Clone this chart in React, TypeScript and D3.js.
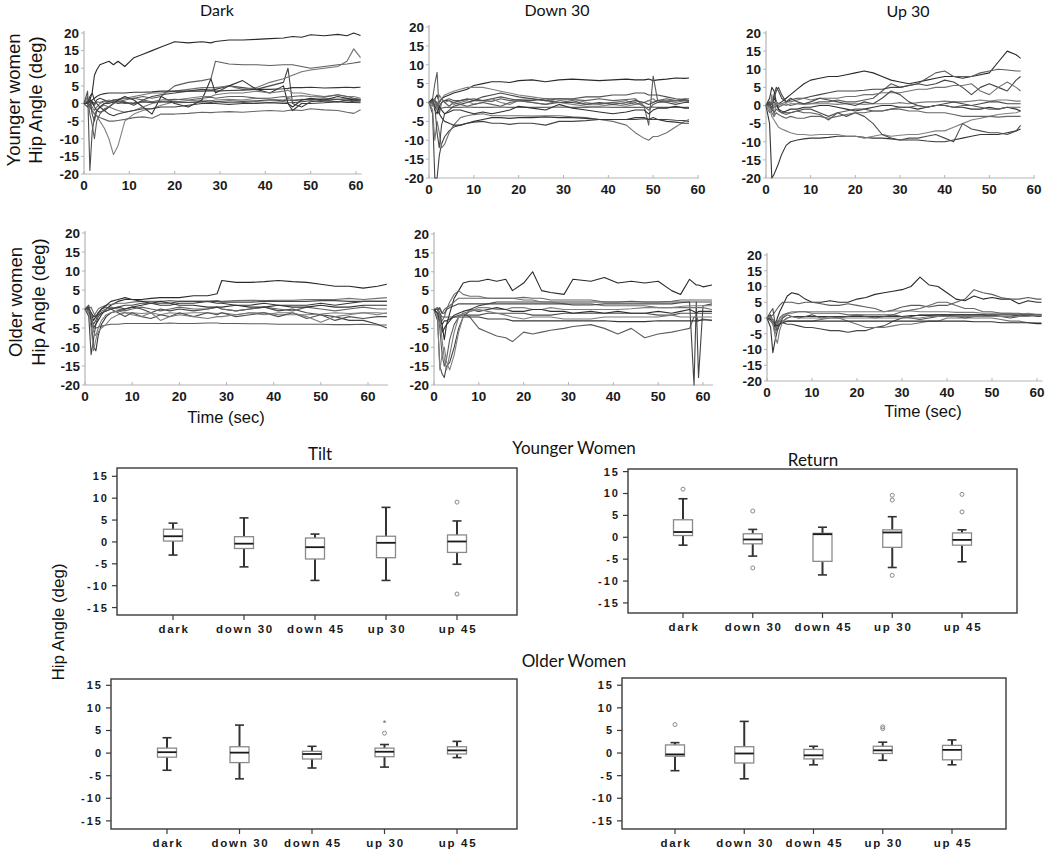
import * as d3 from "d3";

// ---- shared ticks / categories ----
const LINE_Y_TICKS = [20, 15, 10, 5, 0, -5, -10, -15, -20];
const LINE_X_TICKS = [0, 10, 20, 30, 40, 50, 60];
const BOX_Y_TICKS = [15, 10, 5, 0, -5, -10, -15];
const CATEGORIES = ["dark", "down 30", "down 45", "up 30", "up 45"];

// ---- Younger women, Dark (time grid + traces, deg) ----
const T_YD = [0, 0.8, 1.3, 1.8, 2.3, 2.8, 3.5, 4.5, 5.5, 6.5, 7.5, 9, 11, 13, 15, 17, 20, 23, 26, 28, 29, 32, 35, 38, 41, 44, 45, 46, 48, 50, 53, 56, 58, 59.5, 61];
const YD_TRACES = [
  [0, 0.5, 1, 3, 8, 9.5, 11, 11.5, 12, 11, 12, 10.5, 13, 14, 15, 16, 17.5, 17.2, 17.5, 17.2, 17.6, 18, 18, 18.2, 18.4, 18.6, 18.8, 19, 18.8, 19.5, 19.2, 19.6, 19.2, 20, 19.3],
  [0, 0, 0.5, 0, -0.5, 0.5, 0.3, 0.8, 0.5, 1, 1.2, 1.5, 1.5, 2, 1.5, 2, 5, 6, 6.5, 7, 12, 11.2, 11, 11, 10.8, 11, 11, 11, 10.5, 10, 10.5, 11, 11.2, 11.5, 11.8],
  [0, 0.2, -0.5, 0.5, 0, 1, 1.5, 1, 0.5, 1, 0.8, 0.5, -0.5, 1, 2, 2.5, 3, 3.5, 4, 3.8, 4, 5, 4.5, 4, 5, 6, 10, 0, -1, 0.5, 1, 0.5, 1, 0.8, 1],
  [0, 0, 0.5, -1, -2, -1, 0, 0.5, 1, 0.5, 1, 1.5, 2, 2.5, 3, 3, 3.5, 4, 4.5, 4.5, 4.5, 5, 4, 4.5, 6, 7, 7.5, 8, 9, 9.5, 10, 10.5, 12, 15.5, 13],
  [0, 0, 0.5, 1, 1.5, 2, 2.5, 2.8, 3, 3, 3, 3, 3.2, 3.2, 3.3, 3.5, 3.5, 3.5, 3.5, 3.6, 3.5, 3.7, 3.8, 4, 4, 4.2, 4.3, 4.5, 4.5, 4.6, 4.4, 4.5, 4.6, 4.5, 4.6],
  [0, 0, -1, -2, -3, -3.5, -5, -7, -10, -14.5, -12, -5, -3, -2, -1.5, -0.5, 0.5, 0.8, 1, 0.8, 1, 1.2, 1, 1.5, 1.2, 1, 1.5, 1, 1.2, 1, 1.5, 1.2, 1.5, 1.2, 1],
  [0, 3.5, -19, -8, -4, -2, -1, 0, 0.5, 0.2, 0.5, 0, 0.2, 0.5, 0.3, 0.5, 0.5, 0.3, 0.5, 0.8, 0.5, 0.8, 0.6, 0.8, 1, 0.8, 1, 0.8, 1, 1.2, 1, 1.2, 1, 1.3, 1],
  [0, 0, -1, -2, -3, -3.5, -4, -4.5, -5, -5, -4.8, -4.5, -4, -3.8, -4.2, -3, -3, -2.8, -2.5, -2.6, -2.5, -2.3, -2.5, -2.2, -2, -2.2, -2, -1.8, -2, -1.5, -1.8, -2, -2.5, -2.8, -1.8],
  [0, 0.5, 1, 0.5, -1, -2, -2.5, -2, -1, 0, 1, 2, 1, -1, -3, 2, 0, -1, 1, 7, 3, 5, 6.5, 4, 3, 5, 0, -1, 1, 1.5, 1, 2, 1.5, 1, 1],
  [0, 1, 0.5, -2, -3, -2, -1, -0.5, -1, -1.5, -2, -2.5, -2, -1, 0, 0.5, 1, 1.5, 2, 2, 2.5, 3, 3, 3.5, 3, 3.5, 3.8, 3, 3, 2.5, 2, 2.5, 2, 2, 1.5],
  [0, -1, 1, -3, -5, -2, -1, 0, 0, 0.5, 0, 0.3, 0, 0.5, 0.3, 0.5, 0.2, 0.3, 0.5, 0.3, 0.5, 0.2, 0.3, 0.5, 0.3, 0.5, 0.3, 0.2, 0.5, 0.8, 0.5, 0.5, 0.8, 0.5, 0.5],
  [0, 2, -3, -6, -10, -5, -3, -1.5, -1, 0, 0.5, 1, 1.5, 1, 0.5, 1, 1.2, 1, 1.5, 1.8, 1.5, 2, 2, 1.5, 1.5, 2, 1.8, 2, 2.2, 2, 1.8, 2.5, 2, 1.5, 1.2],
  [0, 0, 2, 3, 1, 0, -1, -2, -3, -3.5, -3, -2.5, -2, -1.5, -1.5, -1, -1, -0.5, 0, 0, 0, -0.3, 0, 0, 0.2, 0, 0, -2, 0, 0, 0.2, 0.5, 0.3, 0.3, 0.2],
];

// ---- Younger women, Down 30 ----
const T_YDN = [0, 0.8, 1.3, 1.8, 2.3, 2.8, 3.5, 4.5, 5.5, 7, 8.5, 10, 12, 14, 16, 18, 20, 23, 26, 29, 32, 35, 38, 41, 44, 46, 48, 49, 50, 51, 53, 55, 57, 58];
const YDN_TRACES = [
  [0, 0.5, 1, 2, 0, 1, 1.5, 2, 2.5, 3, 3.5, 4.5, 5, 5.5, 5.5, 5.3, 5.8, 6, 5.5, 6, 6.2, 6, 5.8, 6, 6.2, 6, 6, 6.2, 5.8, 6, 6.2, 6.5, 6.4, 6.5],
  [0, 1, 5, 8, -3, 0, 0.5, 1, 0.5, 0.5, 0.8, 1, 0.5, 0.3, 1, 0.5, 0.8, 1, 0.5, 1, 0.8, 0.5, 1, 0.5, 0.8, 1, -1, -6, 7, 0.5, 1, 0.5, 1, 1],
  [0, -3, -20, -20, -14, -11, -9, -7.5, -6.5, -6, -5.5, -5.2, -5, -5.5, -5.5, -5.8, -5.5, -5.5, -6, -5, -5, -4.8, -4.5, -4.5, -4.5, -4.5, -4.3, -4.5, -4.5, -4.5, -4.5, -4.7, -4.8, -5],
  [0, -2, -10, -5, -8, -12, -11, -8, -6, -4, -3.5, -3.2, -3, -3.5, -3.5, -3.5, -3.5, -3.6, -3.5, -3.5, -3.8, -4, -4.5, -5, -6, -8, -9.5, -10, -9, -9, -8, -6.5, -5, -4.5],
  [0, 0, -1, -2, -3, -4, -5, -5.5, -6, -6, -5.5, -5, -4.5, -4, -4, -4.2, -4, -4, -3.8, -4, -4, -4.2, -4.5, -4.5, -4.5, -4, -4, -4.5, -4, -4.5, -5, -5.2, -5.5, -5.5],
  [0, 0.5, 1, -1, 0, 1, 2, 2.5, 3, 3.5, 4, 4, 4, 3.5, 3, 2.5, 2, 1.5, 1, 0, -0.5, -1, -1, -0.5, -1, -0.5, 0, 0.5, 0, 0.5, 0.5, 0.5, 0.8, 0.5],
  [0, -0.5, 0.5, 0, -1, 0, 0.5, 0.5, 0, 0.5, 1, 0.5, 0.5, 1, 1.5, 1, 0.5, 0.5, 1, 1, 1, 1.5, 1.5, 2, 2, 2.5, 2.5, 2, 2, 2, 1.5, 1, 0.8, 0.5],
  [0, 0, -0.5, -1, -1.5, -1.5, -1.3, -1.3, -1.3, -1.3, -1.2, -1.3, -1.3, -1.3, -1.2, -1.3, -1.3, -1.3, -1.3, -1.2, -1.3, -1.3, -1.2, -1.3, -1.3, -1.3, -1.3, -1.3, -1.2, -1.3, -1.3, -1.3, -1.3, -1.3],
  [0, 1, -2, -3, -1, -2, -3, -2.5, -2, -2, -2.5, -3, -2.5, -3, -2.5, -2, -1, -1.5, -2, -0.5, -1.5, -2, -2.5, -3, -2.5, -2, -2, -3, -2, -1.5, -1.5, -1, -1.5, -1.5],
  [0, -1, 1, -2, 2, 1, 0, 0.5, -0.5, 0, 0.5, -0.5, 0, 1, 0, -0.5, 0.5, 0, -0.5, 0.5, 1, 0, -0.5, 0, 0.5, -0.5, 0, 0.5, 1, 0, 0.5, 0, 0.5, 0],
  [0, 0.5, -1, -8, -12, -6, -3, -2, -1, -0.5, 0, 0.5, 1.5, 2, 2.5, 2, 1.5, 1, 0.5, 0, 0, -0.5, 0, -0.5, 0, 0.5, 0, -0.5, 0, 0.5, 0, -0.5, 0, 0],
  [0, 0, 0.5, -1, 0, 1, 0, -1, 0, -0.5, -1, -0.5, 0, -0.5, -1, 0, 0.5, 0, -0.5, 0, 0.5, -0.5, -0.3, 0, -0.5, 0, -1, -2, -0.5, 0, 0.2, 0.5, 0.5, 0.3],
];

// ---- Younger women, Up 30 ----
const T_YUP = [0, 0.8, 1.3, 1.8, 2.3, 2.8, 3.5, 4.5, 5.5, 7, 8.5, 10, 12, 14, 16, 18, 20, 22, 24, 26, 28, 30, 32, 34, 36, 38, 40, 42, 44, 46, 48, 50, 52, 54, 56, 57];
const YUP_TRACES = [
  [0, 0.5, 1, 2, 1, 0.5, 1, 2, 3, 4.5, 6, 7, 7.5, 8, 8, 8.5, 9, 9.5, 9, 8, 7, 6.5, 6, 6.5, 7, 7.5, 8, 8, 7.5, 8, 8.5, 9, 12, 15, 14, 13],
  [0, -0.5, 0.5, 1, 0, -0.5, 0, 0.5, 0, 0.5, 0.5, 0.5, 1, 1, 1.5, 1, 1, 1.5, 2, 4, 6, 5, 5.5, 6, 7.5, 9, 9.5, 8, 8, 8, 9, 9.5, 10, 9.8, 9.5, 9.5],
  [0, 0, 0.5, 3, 5, 4, 2, 1, 1.5, 2, 2, 2.5, 3, 3.5, 4, 4, 4, 4.2, 4.5, 4.5, 5, 5, 5.5, 6, 5.5, 6, 7, 6.5, 5, 3, 5, 6, 5, 4, 7, 8],
  [0, 0, -0.5, 0, 1, 0.5, 0.5, 1, 1, 1.5, 2, 1.5, 2, 2, 2, 2.5, 2.5, 3, 3, 3.5, 3.5, 3.5, 4, 4.5, 4.5, 5, 5, 5.5, 5.5, 6, 4, 3, 5, 6.5, 5, 4],
  [0, -5, -20, -19, -17.5, -16, -13.5, -11, -10, -9.5, -9.2, -9, -9, -8.8, -8.5, -8.5, -8.5, -8.8, -9, -9, -9.2, -9.5, -9.5, -9.5, -9.8, -10, -10, -9.5, -9, -8.5, -8, -8, -8, -7.5, -7, -6.5],
  [0, -1, -3, -4, -5, -6, -6.5, -7, -7.5, -8, -8, -8.2, -8, -8, -8, -8.5, -8.5, -9, -8.5, -8, -8.5, -8.2, -8, -8, -7.5, -7, -7, -6, -5, -4, -3.5, -3, -2.5, -2.2, -2, -1.5],
  [0, 0.5, -1, -0.5, 0, -1, -1.5, -2, -2, -1.5, -1, -1, -2, -3, -2, -3, -2, -3, -5, -8, -9, -9.5, -9, -9, -8.5, -8, -9, -10, -5, -6.5, -7, -7.5, -7.5, -8, -7, -5.5],
  [0, 1, -2, -3, -2, -2.5, -3, -3.5, -3, -3.5, -3.5, -3, -3, -3.5, -3, -2.5, -2, -2, -1.5, -1.5, -1, -1, -1.5, -1.5, -2, -2, -2, -2.5, -3, -3, -3, -3, -3.2, -3, -3, -3],
  [0, 2, 5, 4, 1, -1, -2, -1.5, -1, -1, -0.5, -0.5, 0, 0, -0.5, -1, -1.5, -1, -0.5, 0, 0, -0.5, -0.5, -1, -0.5, 0, 0, -0.5, -0.5, -1, -1, -0.5, -1, -0.5, -1, -1.5],
  [0, -2, 3, -3, 1, 0, 0.5, 0, 0.5, 0.5, 0.3, 0.5, 0.5, 0.5, 0.3, 0.5, 0.5, 0.3, 0.5, 0.5, 0.5, 0.8, 0.5, 0.8, 1, 1, 1.2, 1, 1, 1.2, 1.5, 1.2, 1.5, 1.5, 1.2, 1.2],
  [0, 1, -1, 2, 4, 5, 3, 1, 2, 1, 0.5, 1, 2, 1.5, 1, 0.5, 0, 1, 0.5, 2, 4, 3, 1, 0, -0.5, 0, 0.5, 1, 0.5, 0, 0.5, 1, 1, 0.5, 0.5, 0.5],
  [0, 0, -1, -2, -1, -1.5, -2, -2.5, -2, -1.5, -2, -2, -2.5, -4, -2, -1.5, -1, -1, -1.5, -1.5, -1, -0.5, -0.5, 0, -0.5, 0, 0, -0.5, 0, 0, -0.5, -1, -1, -0.5, -0.5, -0.5],
];

// ---- Older women, Dark ----
const T_OD = [0, 0.8, 1.3, 1.8, 2.3, 2.8, 3.5, 4.5, 5.5, 7, 8.5, 10, 12, 14, 16, 18, 20, 23, 26, 28, 29, 32, 35, 38, 41, 44, 47, 50, 53, 56, 59, 62, 64];
const OD_TRACES = [
  [0, -0.5, -2, -5, -4, -3, -1.5, 0, 1, 2, 2.5, 2.5, 2.5, 2.8, 3, 3, 3, 3.5, 3.5, 4, 7.5, 7, 7, 7.2, 7.5, 7.2, 7, 6.5, 6, 6, 5.5, 6, 6.5],
  [0, -1, -3, -5, -5, -4.8, -4.5, -4.2, -4, -4, -3.8, -3.8, -3.8, -3.8, -3.8, -3.7, -3.8, -3.8, -3.7, -3.7, -3.8, -3.8, -3.9, -3.9, -4, -4, -4, -4, -4.1, -4.1, -4, -4.2, -4.2],
  [0, -2, -12, -8, -4, -2, -1, -0.5, 0, 0.5, 0, 0.5, 0, -1, 0, -0.5, 0, -0.5, 0, 0.5, 0, -0.5, 0, 0.5, -0.5, 0, -1, -1.5, -2, -3, -3, -4, -5],
  [0, 0, -1, -2, -1, 0, 0.5, 1, 1.2, 1.5, 1.5, 1.8, 2, 2, 2, 2.2, 2, 2, 2, 2.2, 2, 2.2, 2.3, 2.2, 2.3, 2.3, 2.5, 2.5, 2.5, 2.8, 2.5, 2.8, 3],
  [0, 0.5, -3, -10, -11, -7, -4, -2, -1, -0.5, 0, 0.5, 1, 1.5, 1, 1, 1.5, 1.5, 2, 1.5, 1.5, 1, 1, 1.5, 1, 1, 1, 1.5, 1, 1.5, 2, 2, 2],
  [0, -1, -5, -11, -8, -6, -5, -4, -2.5, -1.5, -1, -1, -1.2, -1, -1.5, -1, -1.2, -1, -1, -1.2, -1, -1.5, -1, -1, -1.5, -1.5, -1.5, -1.3, -1, -1.2, -1, -1, -1.2],
  [0, 1, -2, -4, -3, -1, 0, 0.5, 0, -1, -2, -1, -2, -2.5, -1.5, -2, -1, -2, -1, -1.5, -1, -2, -1.5, -1, -2, -1, -2.5, -1.5, -3, -2, -2.5, -2, -2],
  [0, 0, 0.5, -1, -2, -1, -0.5, 0, 0.5, 0, -0.5, 0, 0.5, 0, -0.5, 0, 0.5, 0, 0, 0.5, 0, -0.5, 0, 0.5, 0, -0.5, 0.5, 0, -0.5, 0, 0.5, 0, 0],
  [0, 0, -1, -3, -2, -1, 0, 1, 2, 2.5, 3, 2.5, 2, 1.5, 2, 1.5, 1, 1, 0.5, 0.5, 0.5, 1, 0.5, 0.5, 1, 0.5, 0.5, 1, 0.5, 0.5, 1, 1, 1],
  [0, -0.5, -1, -6, -7, -5, -3, -1.5, -1, -0.5, -1, -1.5, -2, -1, -3, -2, -1.5, -2, -2.5, -2, -2, -1.5, -1, -1.5, -1, -1, -2, -3.5, -2, -1.5, -1, -1.5, -1],
  [0, 0, -1, -2, -2, -1.5, -1, -0.5, 0, 0.5, 1, 1, 1.5, 1.5, 1.5, 1.5, 2, 2, 2, 2, 1.8, 1.8, 1.8, 2, 2, 2, 2, 2.2, 2.2, 2, 2, 2, 2],
];

// ---- Older women, Down 30 ----
const T_ODN = [0, 0.8, 1.3, 1.8, 2.3, 2.8, 3.5, 4.5, 5.5, 6.5, 8, 10, 12, 14, 16, 17.5, 20, 22, 24, 26, 29, 31, 35, 38, 41, 44, 47, 50, 53, 55, 57, 58, 58.5, 59, 60, 62];
const ODN_TRACES = [
  [0, 0, -1, -4, -8, -4, -1, 3, 5, 7, 7.5, 7.5, 8, 7.5, 8, 5, 7, 10, 5, 4.5, 4, 8, 7.5, 8.5, 7, 7.5, 7, 7.5, 5, 4, 8, 7, 6.5, 6.5, 6, 6.5],
  [0, -1, -5, -12, -15, -13, -8, -4, -2, -1, -2, -5, -6, -7, -7.5, -8.5, -6, -6.5, -6, -5.5, -5, -4.5, -4, -5, -6.5, -5, -7.5, -6.5, -6, -5.5, -5, -2, -2, -3, -2.5, -3],
  [0, -3, -15, -17, -18, -15, -14, -10, -5, -2, 0, 1, 1.5, 2, 2, 2, 2, 2, 2, 2, 2, 2, 2, 2, 2, 2.2, 2, 2, 2, 2, 2, -20, 2, -18, 1, 1.5],
  [0, 0.5, -1, -3, -2, 0, 2, 4, 5, 4, 3.5, 3.5, 3, 3, 3, 3, 2.5, 2.5, 2, 2, 1.5, 1.5, 1.5, 1, 1, 1, 1, 0.5, 0.5, 0.5, 0.5, 0.5, 0.5, 0.5, 0.5, 0],
  [0, 0, -2, -4, -3, -3, -2.5, -2, -2, -2, -2, -2, -2.5, -2.5, -2.5, -3, -3, -3, -3, -3, -3, -3, -3, -3, -3.2, -3.2, -3.2, -3, -3, -3, -3, -3, -3, -3, -2.8, -2.8],
  [0, -2, -16, -12, -10, -14, -16, -12, -6, -2, -0.5, 0.5, 0.5, 0, 0, 0.5, 0.5, 0, 0, 0.5, 0, 0, 0, 0, 0, 0.2, 0.5, 0.5, 0.5, 0.8, 1, 1, 1, 1, 1, 1],
  [0, 0, -1, -2, -2, -2, -2, -2, -1.5, -1.5, -1.5, -1.5, -1, -1, -1, -1, -1, -1.5, -1.5, -1.5, -1, -1, -1, -1, -1, -1, -1, -1.5, -1.5, -1, -1, -1, -1, -1, -1, -1],
  [0, 0.5, 0, -1, 0, 0.5, 1, 2, 3, 3, 3, 3, 3, 3, 3, 3, 3.2, 3, 3, 2.5, 2.5, 2.5, 2.5, 2, 2, 2, 2, 2, 2.2, 2.5, 2.5, 2.5, 2.5, 2.5, 2.5, 2.5],
  [0, -1, -3, -6, -5, -4, -3, -1.5, -1, -0.5, 0, -0.5, 0, 0.5, 0, -0.5, -0.5, 0, 0, -0.5, -0.5, -1, -0.5, -1, -0.5, -1, -1, -0.5, -1, -0.5, 0, -0.5, -1, -0.5, -0.5, -0.5],
  [0, 0.5, -2, -8, -13, -16, -12, -6, -2, -1, -0.5, 0, -0.5, -1, -1.5, -2, -2.5, -2, -2, -2, -2.5, -2.5, -2.5, -2, -2, -2, -2, -2, -1.5, -2, -2, -2, -2, -2, -2, -2],
  [0, 0, 0.5, -1, -1, 0, 0.5, 1, 1.5, 1.5, 1.5, 1.5, 1.5, 1.5, 1.5, 1.5, 1.5, 1.5, 1.5, 1.5, 1.5, 1.2, 1.2, 1.5, 1.5, 1.5, 1.5, 1.5, 1.5, 1.8, 2, 2, 2, 2, 2, 2],
];

// ---- Older women, Up 30 ----
const T_OUP = [0, 0.8, 1.3, 1.8, 2.3, 2.8, 3.5, 4.5, 5.5, 7, 8.5, 10, 12, 14, 16, 18, 20, 22, 24, 26, 28, 30, 32, 34, 36, 38, 40, 42, 44, 46, 48, 50, 52, 54, 56, 58, 60, 61];
const OUP_TRACES = [
  [0, 1, -1, -3, 0, 2, 4, 7, 8, 7.5, 6, 5, 5, 5.5, 5, 5, 6, 6.5, 7.5, 8, 8.5, 9, 10, 13, 10.5, 10, 8, 6, 5.5, 7, 6, 6.5, 6, 6, 4.5, 5.5, 5, 5],
  [0, 0.5, 1, 2, 3, 4, 5, 5, 5, 4.5, 5, 5, 4.5, 4, 4, 4.5, 4, 3.5, 3, 2, 2.5, 3.5, 4, 4, 3.5, 4, 4, 5, 6, 9, 8, 7.5, 6.5, 6, 6, 6.5, 6, 6],
  [0, 0, -1, -1.5, -1, -1, -1.5, -2, -2, -2.5, -3, -3, -3.5, -4, -4, -4.5, -4, -4, -3, -2.5, -1, 0, 0.5, 1, 1, 1, 1, 1, 1, 1, 1, 0.5, 0.5, 0.5, 1, 1, 1, 1],
  [0, 0, -0.5, -1, -1.5, -1, -1, -1, -1, -1, -1, -1, -0.5, 0, 0, -1, -2, -3, -3, -3, -2.5, -2, -2, -1.5, -1, -1, 0, 0, 0, 0, 0, 0, -0.5, -1, -1, -1.5, -1.5, -1.5],
  [0, -3, -11, -7, -4, -2, -1, 0, 0.5, 0.5, 0.5, 0.5, 0.5, 0.5, 0.5, 0.5, 0.5, 0.5, 0.5, 0.5, 0.5, 0.5, 0.8, 0.8, 0.8, 1, 1, 1, 1, 1, 1, 1, 1, 1, 1, 1, 1, 1],
  [0, 0.5, -2, -5, -3, -1, 0.5, 1.5, 2, 2, 2, 2, 2, 2, 2, 2, 2, 2, 2, 2, 2.2, 2.2, 2.2, 2, 2, 2, 2, 1.8, 1.8, 1.8, 1.5, 1.5, 1.5, 1.5, 1.2, 1.5, 1.2, 1.2],
  [0, 2, 3, -2, -4, -2, 0, 1, 0.5, 0, 0.5, 1, 0, 0.5, 0, 0.5, 1, 0.5, 0, 0.5, 1, 0.5, 0, -0.5, 0, 0.5, 1, 0.5, 0, 0.5, 0.5, 1, 0.5, 0, 0.5, 1, 0.5, 0.5],
  [0, -1, -2, -4, -2, 0, 1, 1.5, 1.5, 2, 2, 1.5, 1.5, 1.5, 1.5, 1, 1, 1, 1, 1, 1, 2, 2.5, 3, 4, 5, 5, 4, 3, 3, 2, 2, 1.5, 1.5, 1.5, 1, 1, 1],
  [0, -0.5, -1, -2, -2.5, -2, -1.5, -1, -1, -1, -1, -1, -1, -1, -1, -1, -1, -1, -1, -1, -1, -1, -1, -1, -1, -1, -1, -1, -1, -1.2, -1.2, -1.2, -1.5, -1.5, -1.5, -1.5, -1.8, -1.8],
  [0, 0.5, -1, -6, -8, -4, -1, 0, 0.5, 0, 0, 0, 0, 0, 0, 0, 0, 0, 0, 0, 0, 0, 0, 0, 0.5, 0.5, 0.5, 0.5, 0.5, 0.5, 0.5, 0.5, 0.5, 0.5, 0.5, 0.5, 0.8, 0.8],
];

// ---- Box plot statistics (deg): whisker low, Q1, median, Q3, whisker high, outliers ----
const YT_LO = [-3.0, -5.7, -8.8, -8.8, -5.1];
const YT_Q1 = [0.2, -1.5, -3.9, -3.6, -2.4];
const YT_MED = [1.3, -0.4, -1.2, -0.2, 0.1];
const YT_Q3 = [2.9, 1.2, 0.9, 1.3, 1.6];
const YT_HI = [4.3, 5.5, 1.8, 7.9, 4.8];
const YT_OUT = [[], [], [], [], [9.1, -11.9]];

const YR_LO = [-1.8, -4.3, -8.6, -6.9, -5.6];
const YR_Q1 = [0.4, -1.5, -5.5, -2.3, -1.8];
const YR_MED = [1.2, -0.5, 0.7, 1.1, -0.6];
const YR_Q3 = [4.0, 0.8, 0.9, 1.7, 1.0];
const YR_HI = [8.8, 1.8, 2.3, 4.7, 1.7];
const YR_OUT = [[11], [6, -7], [], [9.6, 8.5, -8.7], [9.8, 5.8]];

const OT_LO = [-3.8, -5.7, -3.3, -3.1, -1.0];
const OT_Q1 = [-0.9, -2.1, -1.3, -0.8, -0.2];
const OT_MED = [0.2, 0.1, -0.2, 0.3, 0.6];
const OT_Q3 = [1.1, 1.4, 0.4, 1.1, 1.4];
const OT_HI = [3.4, 6.2, 1.5, 1.9, 2.6];
const OT_OUT = [[], [], [], [4.4], []];
const OT_EXT = [[], [], [], [6.9], []];

const OR_LO = [-3.9, -5.7, -2.6, -1.6, -2.6];
const OR_Q1 = [-0.7, -2.2, -1.3, -0.1, -1.5];
const OR_MED = [-0.3, -0.1, -0.5, 0.6, 0.7];
const OR_Q3 = [1.8, 1.4, 0.8, 1.5, 1.7];
const OR_HI = [2.3, 7.0, 1.5, 2.4, 2.9];
const OR_OUT = [[6.3], [], [], [5.8, 5.4], []];

// ---- layout ----
const SANS = "'Liberation Sans', Arial, Helvetica, sans-serif";
const TITLE_FONT = "Lato, 'Open Sans', sans-serif";
const TRACE_GREYS = ["#2a2a2a", "#5c5c5c", "#444444", "#727272", "#363636", "#808080", "#4e4e4e", "#666666", "#303030", "#7a7a7a", "#484848", "#5e5e5e", "#3c3c3c"];

const LINE_PANELS = [
  { key: "yd", title: "Dark", titleX: 217, titleY: 16, times: T_YD, traces: YD_TRACES, xRange: [84, 356], yRange: [174, 33] },
  { key: "ydn", title: "Down 30", titleX: 557, titleY: 16, times: T_YDN, traces: YDN_TRACES, xRange: [429, 698], yRange: [178, 27] },
  { key: "yup", title: "Up 30", titleX: 908, titleY: 17, times: T_YUP, traces: YUP_TRACES, xRange: [766, 1034], yRange: [178, 33] },
  { key: "od", title: "", titleX: 0, titleY: 0, times: T_OD, traces: OD_TRACES, xRange: [85, 368], yRange: [385, 233] },
  { key: "odn", title: "", titleX: 0, titleY: 0, times: T_ODN, traces: ODN_TRACES, xRange: [434, 703], yRange: [385, 234] },
  { key: "oup", title: "", titleX: 0, titleY: 0, times: T_OUP, traces: OUP_TRACES, xRange: [767, 1037], yRange: [381, 255] },
];

const BOX_PANELS = [
  { key: "yt", left: 117, right: 517, top: 468, bottom: 615, yDomain: [-16.7, 16.9], pts: [173, 457], lo: YT_LO, q1: YT_Q1, med: YT_MED, q3: YT_Q3, hi: YT_HI, out: YT_OUT, ext: [] as number[][] },
  { key: "yr", left: 628, right: 1017, top: 469, bottom: 613, yDomain: [-17.3, 15.6], pts: [683, 962], lo: YR_LO, q1: YR_Q1, med: YR_MED, q3: YR_Q3, hi: YR_HI, out: YR_OUT, ext: [] as number[][] },
  { key: "ot", left: 111, right: 517, top: 679, bottom: 829, yDomain: [-16.8, 16.4], pts: [167, 457], lo: OT_LO, q1: OT_Q1, med: OT_MED, q3: OT_Q3, hi: OT_HI, out: OT_OUT, ext: OT_EXT },
  { key: "or", left: 622, right: 1006, top: 678, bottom: 829, yDomain: [-16.8, 16.6], pts: [675, 952], lo: OR_LO, q1: OR_Q1, med: OR_MED, q3: OR_Q3, hi: OR_HI, out: OR_OUT, ext: [] as number[][] },
];

function LinePanel({ p }: { p: (typeof LINE_PANELS)[number] }) {
  const x = d3.scaleLinear().domain([0, 60]).range(p.xRange);
  const y = d3.scaleLinear().domain([-20, 20]).range(p.yRange);
  const tEnd = p.times[p.times.length - 1];
  const line = d3
    .line<number>()
    .x((_, i) => x(p.times[i]))
    .y((v) => y(v));
  const axisColor = "#b4b4b4";
  const x0 = x(0);
  const yb = y(-20);
  return (
    <g>
      {p.title && (
        <text x={p.titleX} y={p.titleY} textAnchor="middle" fontFamily={TITLE_FONT} fontSize={16} fill="#111">
          {p.title}
        </text>
      )}
      <line x1={x0} x2={x0} y1={y(20) - 2} y2={yb} stroke={axisColor} strokeWidth={1.2} />
      <line x1={x0} x2={x(Math.max(60, tEnd)) + 1} y1={yb} y2={yb} stroke={axisColor} strokeWidth={1.2} />
      {LINE_Y_TICKS.map((v) => (
        <g key={v}>
          <line x1={x0 - 3} x2={x0} y1={y(v)} y2={y(v)} stroke={axisColor} />
          <text x={x0 - 5} y={y(v)} dy="0.36em" textAnchor="end" fontFamily={SANS} fontWeight="bold" fontSize={13.5} fill="#1a1a1a">
            {v}
          </text>
        </g>
      ))}
      {LINE_X_TICKS.map((v) => (
        <g key={v}>
          <line x1={x(v)} x2={x(v)} y1={yb} y2={yb - 3} stroke={axisColor} />
          <text x={x(v)} y={yb + 16} textAnchor="middle" fontFamily={SANS} fontWeight="bold" fontSize={13.5} fill="#1a1a1a">
            {v}
          </text>
        </g>
      ))}
      {p.traces.map((tr, i) => (
        <path
          key={i}
          d={line(tr.slice(0, p.times.length)) ?? ""}
          fill="none"
          stroke={TRACE_GREYS[i % TRACE_GREYS.length]}
          strokeWidth={1.1}
          strokeLinejoin="round"
        />
      ))}
    </g>
  );
}

function BoxPanel({ b }: { b: (typeof BOX_PANELS)[number] }) {
  const x = d3.scalePoint<string>().domain(CATEGORIES).range(b.pts);
  const y = d3.scaleLinear().domain(b.yDomain).range([b.bottom, b.top]);
  const boxW = 19;
  const capW = 9;
  return (
    <g>
      <rect x={b.left} y={b.top} width={b.right - b.left} height={b.bottom - b.top} fill="none" stroke="#3a3a3a" strokeWidth={1.4} />
      {BOX_Y_TICKS.map((v) => (
        <g key={v}>
          <line x1={b.left - 5} x2={b.left} y1={y(v)} y2={y(v)} stroke="#3a3a3a" strokeWidth={1.2} />
          <text x={b.left - 8} y={y(v)} dy="0.36em" textAnchor="end" fontFamily={SANS} fontWeight="bold" fontSize={11} letterSpacing={2} fill="#1a1a1a">
            {v}
          </text>
        </g>
      ))}
      {CATEGORIES.map((c, i) => {
        const cx = x(c) ?? 0;
        return (
          <g key={c}>
            <line x1={cx} x2={cx} y1={b.bottom} y2={b.bottom + 5} stroke="#3a3a3a" strokeWidth={1.2} />
            <text x={cx + 1} y={b.bottom + 18} textAnchor="middle" fontFamily={SANS} fontWeight="bold" fontSize={11.5} letterSpacing={1.7} fill="#1a1a1a">
              {c}
            </text>
            {/* whiskers */}
            <line x1={cx} x2={cx} y1={y(b.hi[i])} y2={y(b.q3[i])} stroke="#333" strokeWidth={2} />
            <line x1={cx} x2={cx} y1={y(b.q1[i])} y2={y(b.lo[i])} stroke="#333" strokeWidth={2} />
            <line x1={cx - capW / 2} x2={cx + capW / 2} y1={y(b.hi[i])} y2={y(b.hi[i])} stroke="#333" strokeWidth={1.6} />
            <line x1={cx - capW / 2} x2={cx + capW / 2} y1={y(b.lo[i])} y2={y(b.lo[i])} stroke="#333" strokeWidth={1.6} />
            {/* box */}
            <rect
              x={cx - boxW / 2}
              y={y(b.q3[i])}
              width={boxW}
              height={Math.max(1, y(b.q1[i]) - y(b.q3[i]))}
              fill="#fff"
              stroke="#8a8a8a"
              strokeWidth={1.3}
            />
            <line x1={cx - boxW / 2} x2={cx + boxW / 2} y1={y(b.med[i])} y2={y(b.med[i])} stroke="#1a1a1a" strokeWidth={1.8} />
            {(b.out[i] || []).map((v, j) => (
              <circle key={j} cx={cx} cy={y(v)} r={2} fill="none" stroke="#8a8a8a" strokeWidth={1} />
            ))}
            {(b.ext[i] || []).map((v, j) => (
              <text key={"e" + j} x={cx} y={y(v) + 4} textAnchor="middle" fontFamily={SANS} fontSize={9} fill="#666">
                *
              </text>
            ))}
          </g>
        );
      })}
    </g>
  );
}

export default function App() {
  return (
    <svg width={1050} height={851} viewBox="0 0 1050 851" style={{ position: "absolute", left: 0, top: 0, background: "#fff" }}>
      <rect width={1050} height={851} fill="#fff" />
      {LINE_PANELS.map((p) => (
        <LinePanel key={p.key} p={p} />
      ))}
      {/* row labels for the time-series grid */}
      <g fontFamily={SANS} fontSize={18.5} fill="#111" textAnchor="middle">
        <text transform="translate(20,100) rotate(-90)">Younger women</text>
        <text transform="translate(42,100) rotate(-90)">Hip Angle (deg)</text>
        <text transform="translate(22,302) rotate(-90)">Older women</text>
        <text transform="translate(45,302) rotate(-90)">Hip Angle (deg)</text>
      </g>
      <g fontFamily={SANS} fontSize={16.5} fill="#111" textAnchor="middle">
        <text x={226} y={423}>Time (sec)</text>
        <text x={923} y={417}>Time (sec)</text>
      </g>
      {BOX_PANELS.map((b) => (
        <BoxPanel key={b.key} b={b} />
      ))}
      <g fontFamily={TITLE_FONT} fontSize={17} fill="#111" textAnchor="middle">
        <text x={574} y={454}>Younger Women</text>
        <text x={574} y={667}>Older Women</text>
        <text x={320} y={460}>Tilt</text>
        <text x={813} y={466}>Return</text>
      </g>
      <text transform="translate(64,622) rotate(-90)" textAnchor="middle" fontFamily={SANS} fontSize={17} fill="#111">
        Hip Angle (deg)
      </text>
    </svg>
  );
}
